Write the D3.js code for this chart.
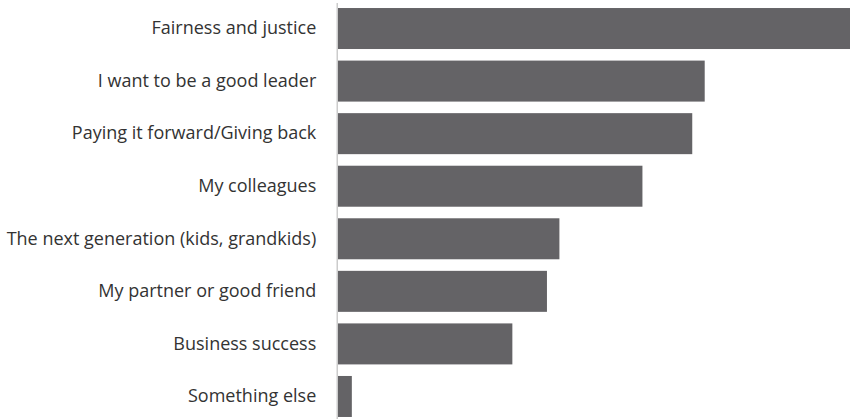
<!DOCTYPE html>
<html>
<head>
<meta charset="utf-8">
<script src="https://cdn.jsdelivr.net/npm/d3@7/dist/d3.min.js"></script>
<style>
  html, body { margin: 0; padding: 0; background: #fff; }
  svg { display: block; }
</style>
</head>
<body>
<div id="chart"></div>
<script>
const categories = [
  "Fairness and justice",
  "I want to be a good leader",
  "Paying it forward/Giving back",
  "My colleagues",
  "The next generation (kids, grandkids)",
  "My partner or good friend",
  "Business success",
  "Something else"
];
const values = [37, 26.5, 25.6, 22, 16, 15.1, 12.6, 1.0];

const width = 850, height = 419;
const margin = { top: 5.4, right: 0, bottom: 0, left: 338 };

const svg = d3.select("#chart").append("svg")
  .attr("width", width).attr("height", height);

const x = d3.scaleLinear()
  .domain([0, d3.max(values)])
  .range([margin.left, width - margin.right]);

const y = d3.scaleBand()
  .domain(categories)
  .range([margin.top, 419.6])
  .paddingInner(0.22)
  .paddingOuter(0.05);

svg.append("g")
  .selectAll("rect")
  .data(categories)
  .join("rect")
  .attr("x", x(0))
  .attr("y", d => y(d))
  .attr("width", (d, i) => x(values[i]) - x(0))
  .attr("height", y.bandwidth())
  .attr("fill", "#646366");

const yAxis = svg.append("g")
  .attr("transform", `translate(${margin.left - 0.75},0)`)
  .call(d3.axisLeft(y).tickSize(0).tickPadding(21));

yAxis.select(".domain").remove();
yAxis.append("line")
  .attr("x1", 0).attr("x2", 0)
  .attr("y1", 3).attr("y2", height)
  .attr("stroke", "#cccccc")
  .attr("stroke-width", 1.5);

yAxis.selectAll("text")
  .attr("fill", "#333333")
  .style("font-family", "'Open Sans', sans-serif")
  .style("font-size", "18px");
</script>
</body>
</html>
